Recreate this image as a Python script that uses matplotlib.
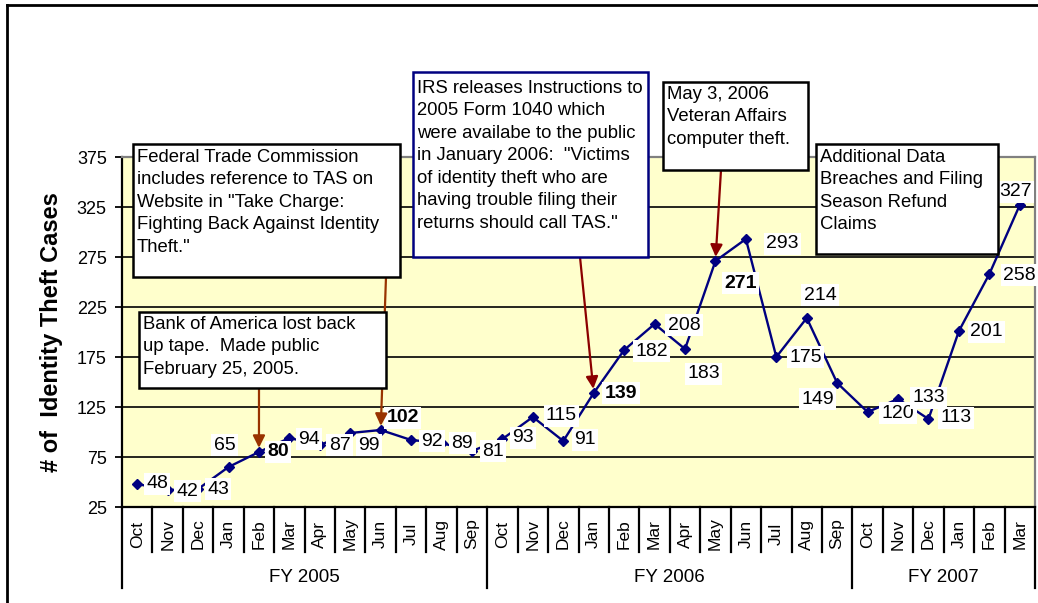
import numpy as np
import matplotlib
matplotlib.use("Agg")
import matplotlib.pyplot as plt
from matplotlib.patches import Rectangle
from matplotlib.lines import Line2D

plt.rcParams['font.family'] = ['Liberation Sans', 'DejaVu Sans']

# data
months = ['Oct', 'Nov', 'Dec', 'Jan', 'Feb', 'Mar', 'Apr', 'May', 'Jun', 'Jul', 'Aug', 'Sep',
          'Oct', 'Nov', 'Dec', 'Jan', 'Feb', 'Mar', 'Apr', 'May', 'Jun', 'Jul', 'Aug', 'Sep',
          'Oct', 'Nov', 'Dec', 'Jan', 'Feb', 'Mar']
fiscal_years = ['FY 2005', 'FY 2006', 'FY 2007']
fy_lengths = [12, 12, 6]
cases = [48, 42, 43, 65, 80, 94, 87, 99, 102, 92, 89, 81,
         93, 115, 91, 139, 182, 208, 183, 271, 293, 175, 214, 149,
         120, 133, 113, 201, 258, 327]
bold_labels = [4, 8, 15, 19]
y_ticks = [25, 75, 125, 175, 225, 275, 325, 375]

note_texts = [
    'Federal Trade Commission\nincludes reference to TAS on\nWebsite in "Take Charge:\nFighting Back Against Identity\nTheft."',
    'Bank of America lost back\nup tape.  Made public\nFebruary 25, 2005.',
    'IRS releases Instructions to\n2005 Form 1040 which\nwere availabe to the public\nin January 2006:  "Victims\nof identity theft who are\nhaving trouble filing their\nreturns should call TAS."',
    'May 3, 2006\nVeteran Affairs\ncomputer theft.',
    'Additional Data\nBreaches and Filing\nSeason Refund\nClaims',
]
note_month = [8, 4, 15, 19, None]

# layout (pixels, from top-left)
W, H = 1038, 603
# label offsets: dx, dy (down)
label_off = [(9, 0), (9, 1), (9, 0), (-15, -22), (8, 0), (9, 1), (9, 0), (8, 12), (6, -12), (10, 1),
             (10, 0), (10, 0), (10, -1), (13, -1), (11, -1), (11, 0), (11, 1), (13, 1), (2, 25), (9, 22),
             (20, 5), (13, 0), (-3, -23), (-36, 16), (14, 1), (14, -1), (12, -1), (11, 1), (14, 1), (-21, -13)]
note_boxes = [(133, 144, 400, 277), (139, 312, 386, 388), (413, 72, 648, 257),
              (663, 82, 808, 170), (816, 144, 998, 254)]
note_edge = ['black', 'black', '#000080', 'black', 'black']
note_pad_top = [5, 4, 8, 4, 5]
arrow_from = [(386, 277), (259, 388), (580, 257), (721, 170), None]
arrow_col = ['#993300', '#993300', '#8B0000', '#8B0000', None]

fig = plt.figure(figsize=(W / 100, H / 100), dpi=100)
ax = fig.add_axes([122 / W, 1 - 507 / H, (1035 - 122) / W, 350 / H])

x = np.arange(len(cases))
ax.plot(x, cases, color='#000080', lw=1.7, marker='D', ms=5.5, zorder=3)
ax.set_xlim(-0.5, len(cases) - 0.5)
ax.set_ylim(25, 375)
ax.set_yticks(y_ticks)
ax.set_xticks([])
ax.set_facecolor('#FFFFCC')
ax.yaxis.grid(True, color='black', lw=1.2)
ax.set_axisbelow(True)
ax.tick_params(axis='y', direction='out', length=5, width=1.3, labelsize=13, pad=6)
for s in ['left', 'bottom']:
    ax.spines[s].set_color('black')
    ax.spines[s].set_linewidth(1.6)
for s in ['top', 'right']:
    ax.spines[s].set_color('#808080')
    ax.spines[s].set_linewidth(1.6)
ax.set_ylabel('# of  Identity Theft Cases', fontsize=17, fontweight='bold', labelpad=10)

# category axis
trans = ax.get_xaxis_transform()
fy_edges = np.cumsum([0] + fy_lengths)
for i in range(len(cases) + 1):
    y_end = -81 / 350 if i in fy_edges else -45 / 350
    ax.plot([i - 0.5, i - 0.5], [0, y_end], transform=trans, clip_on=False, color='black', lw=1.6)
for i, m in enumerate(months):
    ax.text(i, -27 / 350, m, rotation=90, ha='center', va='center', transform=trans, fontsize=12.5)
for k, fy in enumerate(fiscal_years):
    mid = fy_edges[k] + fy_lengths[k] / 2 - 0.5
    ax.text(mid, -70 / 350, fy, ha='center', va='center', transform=trans, fontsize=13.5)

# data labels
for i, v in enumerate(cases):
    dx, dy = label_off[i]
    ax.annotate(str(v), (i, v), xytext=(dx, -dy), textcoords='offset pixels',
                ha='left', va='center', fontsize=14,
                fontweight='bold' if i in bold_labels else 'normal',
                bbox=dict(boxstyle='square,pad=0.12', fc='white', ec='none'), zorder=5)

# notes and arrows
for k, txt in enumerate(note_texts):
    x0, y0, x1, y1 = note_boxes[k]
    fig.add_artist(Rectangle((x0 / W, 1 - y1 / H), (x1 - x0) / W, (y1 - y0) / H,
                             transform=fig.transFigure, fc='white', ec=note_edge[k], lw=1.8, zorder=10))
    fig.text((x0 + 4) / W, 1 - (y0 + note_pad_top[k]) / H, txt, ha='left', va='top', fontsize=13.3,
             linespacing=1.42, zorder=11)
    if note_month[k] is not None:
        i = note_month[k]
        ax_px, ay_px = arrow_from[k]
        ax.annotate('', xy=(i, cases[i]), xytext=(ax_px, H - ay_px), textcoords='figure pixels',
                    arrowprops=dict(arrowstyle='-|>', color=arrow_col[k], lw=1.6,
                                    mutation_scale=18, shrinkA=0, shrinkB=3), zorder=6)

# outer chart frame
fig.add_artist(Line2D([7 / W, 7 / W], [0, 1 - 5 / H], color='black', lw=2))
fig.add_artist(Line2D([7 / W, 1], [1 - 5 / H, 1 - 5 / H], color='black', lw=2))

fig.savefig('out.png', dpi=100)
